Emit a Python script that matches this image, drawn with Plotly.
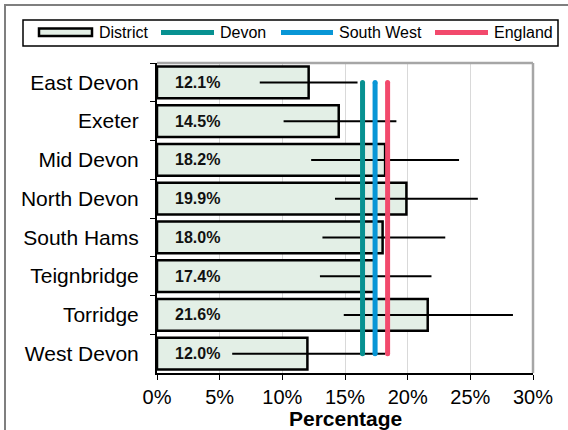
import plotly.graph_objects as go

districts = ["East Devon", "Exeter", "Mid Devon", "North Devon",
             "South Hams", "Teignbridge", "Torridge", "West Devon"]
district_pct = [12.1, 14.5, 18.2, 19.9, 18.0, 17.4, 21.6, 12.0]
ci_lower = [8.2, 10.1, 12.3, 14.2, 13.2, 13.0, 14.9, 6.0]
ci_upper = [16.0, 19.1, 24.1, 25.6, 23.0, 21.9, 28.4, 18.2]
devon_pct = 16.4
south_west_pct = 17.4
england_pct = 18.4
x_ticks = [0, 5, 10, 15, 20, 25, 30]

W, H = 568, 430
L, R, T, B = 157, 35, 63, 57
PW, PH = W - L - R, H - T - B


def px(x):
    return (x - L) / PW


def py(y):
    return (H - B - y) / PH


FONT = "Liberation Sans, Arial, sans-serif"
BAR_FILL = "#e3efe6"
C_DEVON = "#079191"
C_SW = "#0896d6"
C_ENG = "#f2496c"

fig = go.Figure()

fig.add_trace(go.Bar(
    x=district_pct, y=districts, orientation="h", width=0.82,
    marker=dict(color=BAR_FILL, line=dict(color="black", width=2.5)),
    error_x=dict(type="data", symmetric=False,
                 array=[u - v for u, v in zip(ci_upper, district_pct)],
                 arrayminus=[v - l for v, l in zip(district_pct, ci_lower)],
                 color="black", thickness=2, width=0),
    showlegend=False, hoverinfo="x+y",
))

for val, col, name in [(devon_pct, C_DEVON, "Devon"),
                       (south_west_pct, C_SW, "South West"),
                       (england_pct, C_ENG, "England")]:
    fig.add_trace(go.Scatter(
        x=[val, val], y=[districts[0], districts[-1]], mode="lines+markers",
        line=dict(color=col, width=5),
        marker=dict(color=col, size=5, line=dict(width=0)),
        name=name, showlegend=False,
    ))

annotations = []
for d, v in zip(districts, district_pct):
    annotations.append(dict(
        x=0, y=d, xref="x", yref="y", xanchor="left", yanchor="middle",
        xshift=16, text=f"{v:.1f}%", showarrow=False,
        font=dict(family=FONT, size=16, color="#111111", weight="bold"),
    ))

shapes = []
# outer frame (cropped at right/bottom)
shapes.append(dict(type="rect", xref="paper", yref="paper",
                   x0=px(5), x1=px(590), y0=py(5), y1=py(450),
                   line=dict(color="#7f7f7f", width=2), layer="below"))
# plot area top/right border
shapes.append(dict(type="line", xref="paper", yref="paper",
                   x0=0, x1=1, y0=1, y1=1,
                   line=dict(color="#a6a6a6", width=2.5)))
shapes.append(dict(type="line", xref="paper", yref="paper",
                   x0=1, x1=1, y0=0, y1=1,
                   line=dict(color="#a6a6a6", width=2.5)))

# legend box
shapes.append(dict(type="rect", xref="paper", yref="paper",
                   x0=px(23), x1=px(558), y0=py(20), y1=py(46),
                   line=dict(color="black", width=1.5), fillcolor="white"))
# legend items
LY = 32.5
shapes.append(dict(type="rect", xref="paper", yref="paper",
                   x0=px(39), x1=px(92), y0=py(28.5), y1=py(36),
                   line=dict(color="black", width=2.5), fillcolor=BAR_FILL))
for x0, x1, col in [(161, 214, C_DEVON), (281, 333, C_SW), (435, 488, C_ENG)]:
    shapes.append(dict(type="line", xref="paper", yref="paper",
                       x0=px(x0), x1=px(x1), y0=py(LY), y1=py(LY),
                       line=dict(color=col, width=5)))
for x, txt in [(97, "District"), (218, "Devon"), (337, "South West"), (492, "England")]:
    annotations.append(dict(
        x=px(x), y=py(LY), xref="paper", yref="paper", xanchor="left",
        yanchor="middle", text=txt, showarrow=False,
        font=dict(family=FONT, size=16, color="black"),
    ))

# axis title
annotations.append(dict(
    x=0.5, y=py(418), xref="paper", yref="paper", xanchor="center",
    yanchor="middle", text="Percentage", showarrow=False,
    font=dict(family=FONT, size=21, color="black", weight="bold"),
))

fig.update_layout(
    template="none",
    width=W, height=H,
    margin=dict(l=L, r=R, t=T, b=B, pad=0, autoexpand=False),
    paper_bgcolor="white", plot_bgcolor="white",
    font=dict(family=FONT, color="black"),
    bargap=0.18,
    annotations=annotations, shapes=shapes,
    xaxis=dict(
        range=[0, 30], tickvals=x_ticks, ticktext=[f"{v}%" for v in x_ticks],
        showgrid=True, gridcolor="#d9d9d9", gridwidth=1, zeroline=False,
        showline=True, linecolor="black", linewidth=2, automargin=False,
        ticks="outside", ticklen=5, tickcolor="black", tickwidth=1,
        tickfont=dict(size=20, family=FONT, color="black"),
    ),
    yaxis=dict(
        type="category", autorange="reversed", showgrid=False,
        showline=True, linecolor="black", linewidth=2, automargin=False,
        ticks="outside", tickson="boundaries", ticklen=5, tickcolor="black",
        tickwidth=1, ticklabelstandoff=12,
        tickfont=dict(size=21, family=FONT, color="black"),
    ),
)

fig.write_html(
    "out.html",
    config={"displayModeBar": False},
    post_script="document.body.style.margin='0';document.body.style.overflow='hidden';",
)
